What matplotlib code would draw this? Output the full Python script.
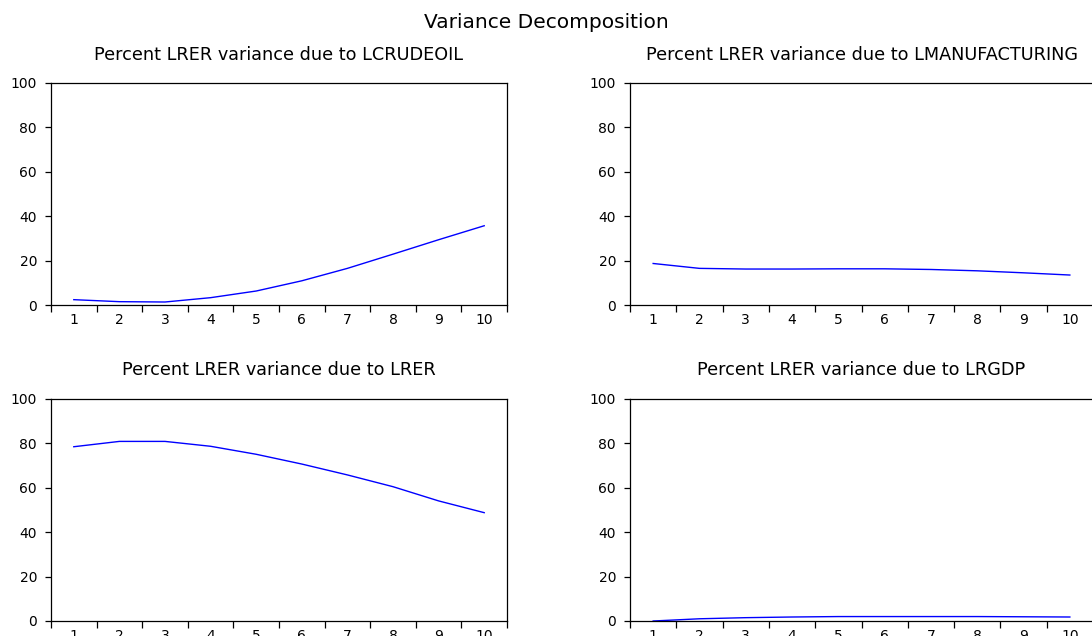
import numpy as np
import matplotlib
matplotlib.use('Agg')
import matplotlib.pyplot as plt

plt.rcParams['font.family'] = ['DejaVu Sans']

# ── Variance decomposition of LRER (periods 1..10) ───────────
periods = np.arange(1, 11)
lcrudeoil      = [2.4, 1.5, 1.35, 3.3, 6.3, 10.9, 16.5, 22.9, 29.4, 35.7]
lmanufacturing = [18.7, 16.5, 16.2, 16.2, 16.3, 16.3, 16.0, 15.4, 14.5, 13.5]
lrer           = [78.5, 80.9, 80.9, 78.7, 75.1, 70.7, 65.8, 60.5, 54.1, 48.8]
lrgdp          = [0.0, 1.0, 1.5, 1.8, 2.0, 2.0, 2.0, 2.0, 1.9, 1.8]

# name, values, axes box in pixels (left, top, width, height), title centre y
panels = [
    ('LCRUDEOIL',      lcrudeoil,      [51, 83, 456, 222], 55),
    ('LMANUFACTURING', lmanufacturing, [630, 83, 463, 222], 55),
    ('LRER',           lrer,           [51, 399, 456, 222], 370),
    ('LRGDP',          lrgdp,          [630, 399, 463, 222], 370),
]

W, H = 1092, 636
fig = plt.figure(figsize=(W / 100, H / 100), dpi=100)
fig.text(0.5, 1 - 23 / H, 'Variance Decomposition', ha='center', va='center', fontsize=14.5)

for name, vals, (px, py, pw, ph), ty in panels:
    ax = fig.add_axes([px / W, 1 - (py + ph) / H, pw / W, ph / H])
    ax.plot(periods, vals, color='#0000ff', lw=1.0)
    ax.set_xlim(0.5, 10.5)
    ax.set_ylim(0, 100)
    ax.set_yticks(np.arange(0, 101, 20))
    # tick marks sit between periods, labels centred on each period
    ax.set_xticks(np.arange(0.5, 10.6, 1.0))
    ax.set_xticklabels([])
    ax.set_xticks(periods, minor=True)
    ax.set_xticklabels([str(p) for p in periods], minor=True)
    ax.tick_params(axis='x', which='major', direction='out', length=5, width=0.9)
    ax.tick_params(axis='x', which='minor', length=0, pad=6, labelsize=10)
    ax.tick_params(axis='y', direction='out', length=4, width=0.9, pad=6, labelsize=10)
    for sp in ax.spines.values():
        sp.set_linewidth(0.9)
    fig.text((px + pw / 2) / W, 1 - ty / H, f'Percent LRER variance due to {name}',
             ha='center', va='center', fontsize=12.7)

fig.savefig('out.png', dpi=100)
